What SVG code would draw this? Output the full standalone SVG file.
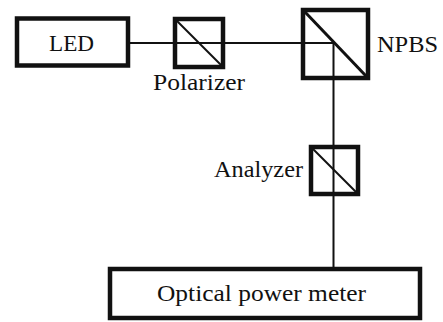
<svg xmlns="http://www.w3.org/2000/svg" width="443" height="322" viewBox="0 0 443 322">
<style>
.box{fill:none;stroke:#111;stroke-width:4.500}
.thin{fill:none;stroke:#111;stroke-width:2}
.mid{fill:none;stroke:#111;stroke-width:3}
text{font-family:"Liberation Serif","DejaVu Serif",serif;font-size:24px;fill:#111}
</style>
<rect width="443" height="322" fill="#fff"/>
<g id="connectors">
<path class="thin" d="M130 43H334M333.500 43V268"/>
</g>
<g id="led"><rect class="box" x="17" y="18.500" width="111" height="47"/><text x="49" y="51" textLength="45" lengthAdjust="spacingAndGlyphs">LED</text></g>
<g id="polarizer"><rect class="box" x="175" y="19" width="48" height="48"/><path class="thin" d="M177 21L221 65"/><text x="153" y="90" textLength="92" lengthAdjust="spacingAndGlyphs">Polarizer</text></g>
<g id="npbs"><rect class="box" x="303" y="10" width="65" height="68"/><path class="mid" d="M305 12L366 76"/><text x="377" y="52" textLength="61" lengthAdjust="spacingAndGlyphs">NPBS</text></g>
<g id="analyzer"><rect class="box" x="311" y="147" width="47" height="47"/><path class="thin" d="M313 149L356 192"/><text x="214" y="177" textLength="89" lengthAdjust="spacingAndGlyphs">Analyzer</text></g>
<g id="meter"><rect class="box" x="110" y="269" width="310" height="49"/><text x="157" y="301" textLength="209" lengthAdjust="spacingAndGlyphs">Optical power meter</text></g>
</svg>
